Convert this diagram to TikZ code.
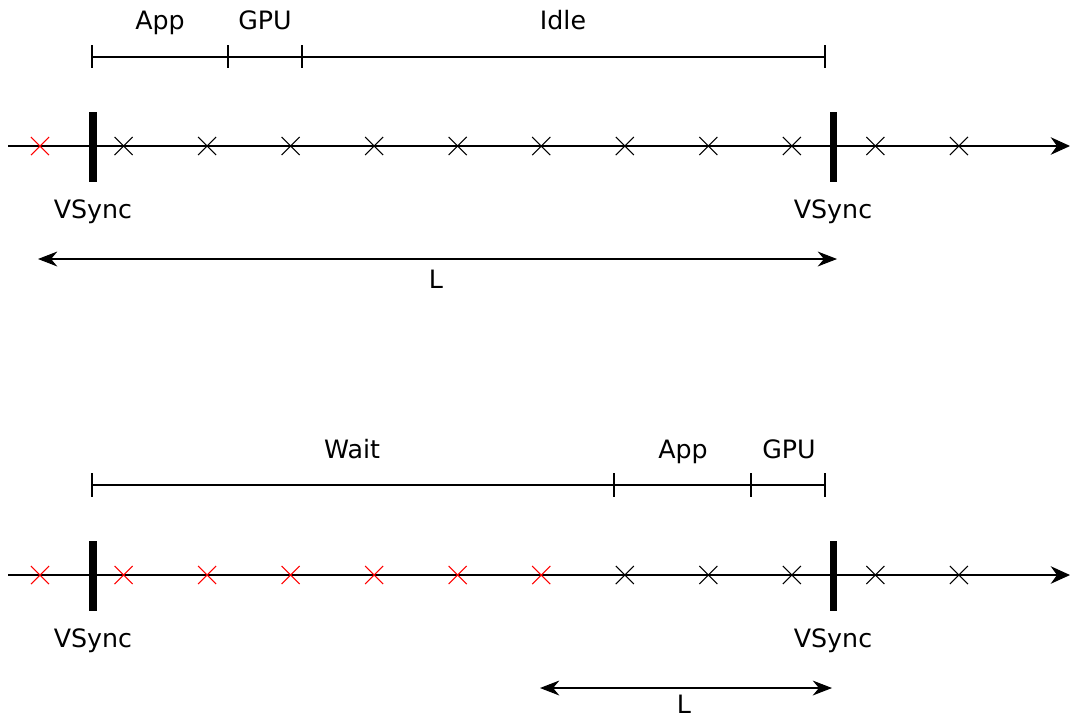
\documentclass[tikz,border=0pt]{standalone}
\usepackage{fontspec}
\setmainfont{DejaVu Sans}
\usetikzlibrary{arrows.meta,shapes.misc}
\definecolor{missed}{HTML}{FF0000}

\begin{document}
\begin{tikzpicture}[x=0.02cm,y=-0.02cm,
  lbl/.style={font=\fontsize{14.4}{17}\selectfont,anchor=base,inner sep=0pt},
  xm/.style={draw,cross out,inner sep=0pt,minimum size=0.34cm,line width=0.6pt},
  axis/.style={line width=0.6pt,-{Stealth[length=11pt,width=10pt]}},
  dim/.style={line width=0.6pt,{Stealth[length=11pt,width=8.5pt]}-{Stealth[length=11pt,width=8.5pt]}},
  seg/.style={line width=1.2pt},
  vsbar/.style={line width=4pt}]
  \useasboundingbox (0,0) rectangle (1070,718);

  % upper timeline: frame finished early, then idle
  \coordinate (a0) at (8,146);
  \coordinate (a1) at (1070,146);
  \draw[axis] (a0) -- (a1);
  \foreach \k in {0,...,11}{
    \pgfmathsetmacro\cx{40+83.54*\k}
    \ifnum\k<1 \def\cc{missed}\else\def\cc{black}\fi
    \node[xm,\cc] (ax\k) at (\cx,146) {};
  }
  \foreach \n/\x in {1/93,2/833}{
    \coordinate (avt\n) at (\x,112);
    \coordinate (avb\n) at (\x,182);
    \draw[vsbar] (avt\n) -- (avb\n);
    \node[lbl] (avl\n) at (\x,218) {VSync};
  }
  \foreach \n/\x in {1/92,2/228,3/302,4/825}{
    \coordinate (as\n) at (\x,57);
    \draw[seg] (\x,45) -- (\x,68);
  }
  \draw[seg] (as1) -- (as4);
  \node[lbl] (aapp) at (160,29) {App};
  \node[lbl] (agpu) at (265,29) {GPU};
  \node[lbl] (aidle) at (563,29) {Idle};
  \coordinate (al0) at (38,259);
  \coordinate (al1) at (837,259);
  \draw[dim] (al0) -- (al1);
  \node[lbl] (al) at (436,288) {L};

  % lower timeline: wait first, then app + gpu just before vsync
  \coordinate (b0) at (8,575);
  \coordinate (b1) at (1070,575);
  \draw[axis] (b0) -- (b1);
  \foreach \k in {0,...,11}{
    \pgfmathsetmacro\cx{40+83.54*\k}
    \ifnum\k<7 \def\cc{missed}\else\def\cc{black}\fi
    \node[xm,\cc] (bx\k) at (\cx,575) {};
  }
  \foreach \n/\x in {1/93,2/833}{
    \coordinate (bvt\n) at (\x,541);
    \coordinate (bvb\n) at (\x,611);
    \draw[vsbar] (bvt\n) -- (bvb\n);
    \node[lbl] (bvl\n) at (\x,647) {VSync};
  }
  \foreach \n/\x in {1/92,2/614,3/751,4/825}{
    \coordinate (bs\n) at (\x,485);
    \draw[seg] (\x,473) -- (\x,497);
  }
  \draw[seg] (bs1) -- (bs4);
  \node[lbl] (bwait) at (352,458) {Wait};
  \node[lbl] (bapp) at (683,458) {App};
  \node[lbl] (bgpu) at (789,458) {GPU};
  \coordinate (bl0) at (540,688);
  \coordinate (bl1) at (832,688);
  \draw[dim] (bl0) -- (bl1);
  \node[lbl] (bl) at (684,713) {L};
\end{tikzpicture}
\end{document}
